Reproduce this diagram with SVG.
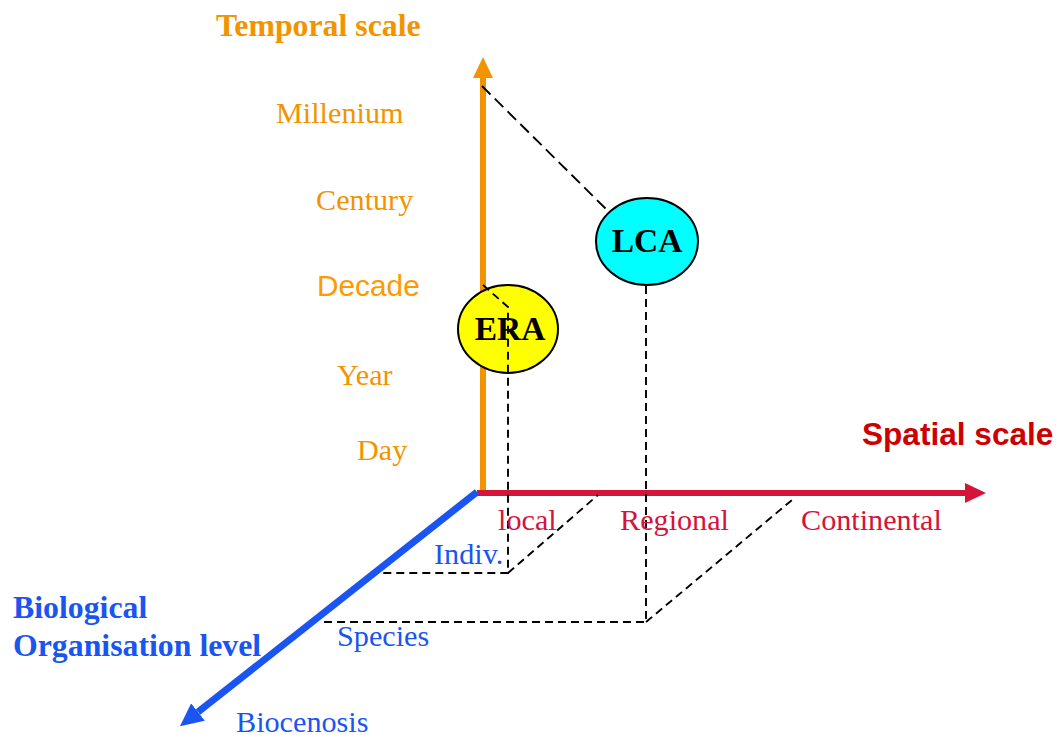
<svg xmlns="http://www.w3.org/2000/svg" width="1059" height="735" viewBox="0 0 1059 735">
<style>
.serif{font-family:"Liberation Serif","Times New Roman",serif;}
.sans{font-family:"Liberation Sans",Arial,sans-serif;}
.lbl{font-size:30.2px;}
.ttl{font-size:31.8px;font-weight:bold;}
.org{fill:#f29400;}
.red{fill:#d41438;}
.blu{fill:#1a55f2;}
.dash{fill:none;stroke:#000;stroke-width:1.9;stroke-dasharray:8,5;}
.node{stroke:#000;stroke-width:2;}
.ntxt{font-family:"Liberation Serif","Times New Roman",serif;font-size:33.5px;font-weight:bold;fill:#000;text-anchor:middle;}
</style>
<defs>
<marker id="arO" markerUnits="userSpaceOnUse" markerWidth="22" markerHeight="22" refX="0" refY="10" orient="auto"><path d="M0,0 L21,10 L0,20 z" fill="#f29400"/></marker>
<marker id="arR" markerUnits="userSpaceOnUse" markerWidth="22" markerHeight="22" refX="0" refY="10" orient="auto"><path d="M0,0 L21,10 L0,20 z" fill="#d41438"/></marker>
<marker id="arB" markerUnits="userSpaceOnUse" markerWidth="24" markerHeight="24" refX="0" refY="11" orient="auto"><path d="M0,0 L23,11 L0,22 z" fill="#1a55f2"/></marker>
</defs>
<rect width="1059" height="735" fill="#fff"/>
<g id="axes">
<line x1="483" y1="494" x2="483" y2="78" stroke="#f29400" stroke-width="6" marker-end="url(#arO)"/>
<line x1="477" y1="493" x2="965" y2="493" stroke="#d41438" stroke-width="6" marker-end="url(#arR)"/>
<line x1="477" y1="492" x2="198" y2="712" stroke="#1a55f2" stroke-width="7" marker-end="url(#arB)"/>
</g>
<g id="node-ERA">
<ellipse cx="508" cy="329" rx="50" ry="44" fill="#ffff00" class="node"/>
<text x="510" y="340" class="ntxt">ERA</text>
</g>
<g id="node-LCA">
<ellipse cx="647" cy="241.5" rx="51" ry="43.5" fill="#00ffff" class="node"/>
<text x="647" y="252" class="ntxt">LCA</text>
</g>
<g id="connectors">
<path class="dash" style="stroke-dasharray:12,6" d="M482,86 L608,211"/>
<path class="dash" d="M483,285 L508,307 L508,573 L381,573"/>
<path class="dash" d="M508,573 L598,495"/>
<path class="dash" d="M646,286 L646,622 L320,622"/>
<path class="dash" d="M646,622 L792,500"/>
</g>
<g id="temporal-labels">
<text x="216" y="36" class="serif ttl org">Temporal scale</text>
<text x="276" y="123" class="serif lbl org">Millenium</text>
<text x="316" y="210" class="serif lbl org">Century</text>
<text x="317" y="296" class="sans org" style="font-size:29.8px;fill:#ff9900">Decade</text>
<text x="337" y="385" class="serif lbl org">Year</text>
<text x="357" y="460" class="serif lbl org">Day</text>
</g>
<g id="spatial-labels">
<text x="862" y="445" class="sans" style="font-size:31.6px;font-weight:bold;fill:#cc0000">Spatial scale</text>
<text x="498" y="530" class="serif lbl red">local</text>
<text x="620" y="530" class="serif lbl red">Regional</text>
<text x="801" y="530" class="serif lbl red">Continental</text>
</g>
<g id="bio-labels">
<text x="13" y="618" class="serif ttl blu">Biological</text>
<text x="13" y="656" class="serif ttl blu">Organisation level</text>
<text x="434" y="564" class="serif lbl blu">Indiv.</text>
<text x="337" y="646" class="serif lbl blu">Species</text>
<text x="236" y="732" class="serif lbl blu">Biocenosis</text>
</g>
</svg>
